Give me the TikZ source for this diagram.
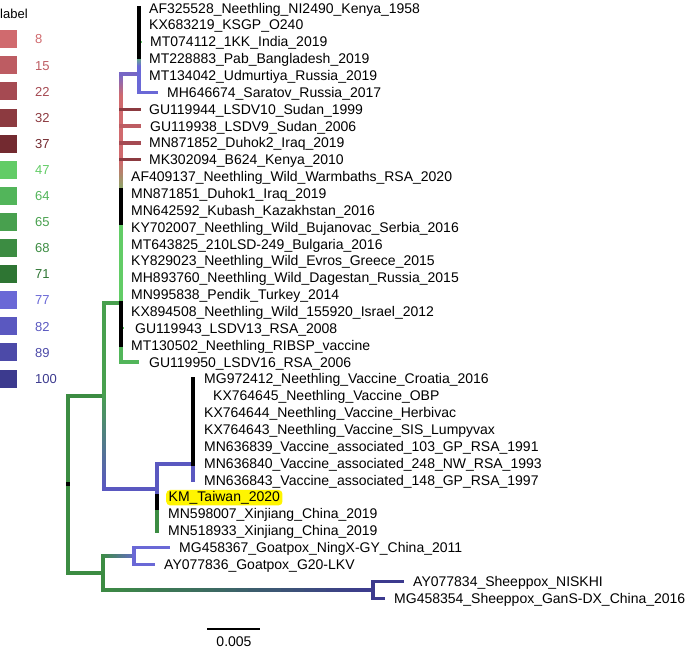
\documentclass[tikz,border=0pt]{standalone}
\usepackage{fontspec}
\setmainfont{Liberation Sans}
\definecolor{r8}{HTML}{D06A6E}
\definecolor{r15}{HTML}{BD5C62}
\definecolor{r22}{HTML}{A54A52}
\definecolor{r32}{HTML}{8C3A40}
\definecolor{r37}{HTML}{732A30}
\definecolor{g47}{HTML}{62CC66}
\definecolor{g64}{HTML}{52B55A}
\definecolor{g65}{HTML}{48A04E}
\definecolor{g68}{HTML}{3C8C42}
\definecolor{g71}{HTML}{2E7533}
\definecolor{b77}{HTML}{6A68D6}
\definecolor{b82}{HTML}{5A58C0}
\definecolor{b89}{HTML}{4C4AA8}
\definecolor{b100}{HTML}{3C3A8E}
\definecolor{hlyellow}{HTML}{FFF500}
\tikzset{
  br/.style={line width=3.2pt, line cap=rect, line join=miter},
  bk/.style={line width=3.8pt, line cap=rect, black},
  tip/.style={anchor=base west, inner sep=0pt, font=\fontsize{14}{16}\selectfont},
  leg/.style={anchor=base west, inner sep=0pt, font=\fontsize{13}{15}\selectfont},
}
% gradient line: x1 y1 x2 y2 colourA colourB
\newcommand\gseg[6]{%
  \foreach \k in {0,...,23}{%
    \pgfmathsetmacro\xa{#1+(#3-#1)*\k/24}%
    \pgfmathsetmacro\ya{#2+(#4-#2)*\k/24}%
    \pgfmathsetmacro\xb{#1+(#3-#1)*(\k+1)/24}%
    \pgfmathsetmacro\yb{#2+(#4-#2)*(\k+1)/24}%
    \pgfmathtruncatemacro\pc{100-(\k+0.5)*100/24}%
    \colorlet{gtmp}{#5!\pc!#6}%
    \draw[br,gtmp] (\xa,\ya) -- (\xb,\yb);
  }}
\begin{document}
\begin{tikzpicture}[x=1pt,y=-1pt]
\useasboundingbox (0,0) rectangle (689,649);

% ---------- legend ----------
\node[leg] (legtitle) at (0,18.3) {label};
\foreach \k/\v/\c in {0/8/r8,1/15/r15,2/22/r22,3/32/r32,4/37/r37,5/47/g47,6/64/g64,7/65/g65,8/68/g68,9/71/g71,10/77/b77,11/82/b82,12/89/b89,13/100/b100}{
  \fill[\c] (0,{39.2+26.1*\k-9}) rectangle (17,{39.2+26.1*\k+9});
  \node[leg,text=\c] (lg\k) at (35,{39.2+26.1*\k+4.7}) {\v};
}

% ---------- tree: coloured branches ----------
% root and deep branches
\draw[br,g68] (68,396) -- (68,573);
\draw[br,g68] (68,396) -- (104,396);
\draw[br,g65] (104,303) -- (104,396);
\gseg{104}{396}{104}{489}{g65}{b82}
\draw[br,b82] (104,489) -- (157,489);
\draw[br,g65] (104,303) -- (121,303);

% main LSDV field clade (x = 121)
\gseg{121}{74}{121}{98}{b77}{r8}
\draw[br,r8] (121,98) -- (121,163);
\gseg{121}{163}{121}{190}{r8}{g47!60!r8}
\draw[br,g47] (121,223) -- (121,303);
\draw[br,g64] (121,345) -- (121,362) -- (137,362);
\draw[line width=1.6pt,g47] (121,328) -- (124,328);

% red tips
\draw[br,r32] (121,109.2) -- (139,109.2);
\draw[br,r15] (121,126) -- (139,126);
\draw[br,r22] (121,142.9) -- (139,142.9);
\draw[br,r32] (121,159.7) -- (139,159.7);

% top subclade (x = 139)
\draw[br,b77!85!r15] (121,74) -- (139,74);
\gseg{139}{57}{139}{68}{g47}{b77}
\draw[br,b77] (139,68) -- (139,92.3) -- (156,92.3);
\draw[line width=1.6pt,g47] (139,41.7) -- (141.5,41.7);

% vaccine / Taiwan clade
\draw[br,b82] (157,464) -- (193,464);
\draw[br,b82] (193,464) -- (193,480);
\draw[br,b82] (157,464) -- (157,496);
\draw[br,g68] (157,508) -- (157,531);

% goatpox / sheeppox
\draw[br,g68] (68,573) -- (103,573);
\draw[br,g68] (103,556) -- (103,590);
\gseg{103}{556}{134}{556}{g68}{b77!80!g68}
\gseg{103}{590}{373}{590}{g68}{b100}
\draw[br,b77] (168,547.5) -- (134,547.5) -- (134,564.4) -- (153,564.4);
\draw[br,b100] (402,581.2) -- (373,581.2) -- (373,598.1) -- (383,598.1);

% ---------- black branches ----------
\draw[bk] (139,8) -- (139,57);
\draw[bk] (121,190) -- (121,223);
\draw[bk] (121,303) -- (121,345);
\draw[bk] (193,379) -- (193,464);
\draw[bk] (157,496) -- (157,508);
\fill[black] (66,482) rectangle (70,486);

% ---------- tip labels ----------
\foreach \i/\x/\t in {
 1/149/AF325528\_Neethling\_NI2490\_Kenya\_1958,
 2/149/KX683219\_KSGP\_O240,
 3/150/MT074112\_1KK\_India\_2019,
 4/149/MT228883\_Pab\_Bangladesh\_2019,
 5/149/MT134042\_Udmurtiya\_Russia\_2019,
 6/167/MH646674\_Saratov\_Russia\_2017,
 7/149/GU119944\_LSDV10\_Sudan\_1999,
 8/150/GU119938\_LSDV9\_Sudan\_2006,
 9/149/MN871852\_Duhok2\_Iraq\_2019,
 10/149/MK302094\_B624\_Kenya\_2010,
 11/131/AF409137\_Neethling\_Wild\_Warmbaths\_RSA\_2020,
 12/131/MN871851\_Duhok1\_Iraq\_2019,
 13/131/MN642592\_Kubash\_Kazakhstan\_2016,
 14/131/KY702007\_Neethling\_Wild\_Bujanovac\_Serbia\_2016,
 15/131/MT643825\_210LSD-249\_Bulgaria\_2016,
 16/131/KY829023\_Neethling\_Wild\_Evros\_Greece\_2015,
 17/131/MH893760\_Neethling\_Wild\_Dagestan\_Russia\_2015,
 18/131/MN995838\_Pendik\_Turkey\_2014,
 19/131/KX894508\_Neethling\_Wild\_155920\_Israel\_2012,
 20/135/GU119943\_LSDV13\_RSA\_2008,
 21/131/MT130502\_Neethling\_RIBSP\_vaccine,
 22/149/GU119950\_LSDV16\_RSA\_2006,
 23/204/MG972412\_Neethling\_Vaccine\_Croatia\_2016,
 24/213/KX764645\_Neethling\_Vaccine\_OBP,
 25/204/KX764644\_Neethling\_Vaccine\_Herbivac,
 26/204/KX764643\_Neethling\_Vaccine\_SIS\_Lumpyvax,
 27/204/MN636839\_Vaccine\_associated\_103\_GP\_RSA\_1991,
 28/204/MN636840\_Vaccine\_associated\_248\_NW\_RSA\_1993,
 29/204/MN636843\_Vaccine\_associated\_148\_GP\_RSA\_1997,
 31/168/MN598007\_Xinjiang\_China\_2019,
 32/168/MN518933\_Xinjiang\_China\_2019,
 33/179/MG458367\_Goatpox\_NingX-GY\_China\_2011,
 34/164/AY077836\_Goatpox\_G20-LKV,
 35/413/AY077834\_Sheeppox\_NISKHI,
 36/394/MG458354\_Sheeppox\_GanS-DX\_China\_2016}{
  \node[tip] (t\i) at (\x,{8+(\i-1)*16.86+5}) {\t};
}
\node[tip, fill=hlyellow, rounded corners=4pt, inner xsep=2.5pt, inner ysep=2pt,
      text height=10pt, text depth=1.5pt] (t30) at (166,{8+29*16.86+5}) {KM\_Taiwan\_2020};

% ---------- scale bar ----------
\coordinate (sb1) at (207,629);
\coordinate (sb2) at (260,629);
\draw[line width=1.5pt] (sb1) -- (sb2);
\node[tip, anchor=base] (sbl) at (234,646) {0.005};
\end{tikzpicture}
\end{document}
